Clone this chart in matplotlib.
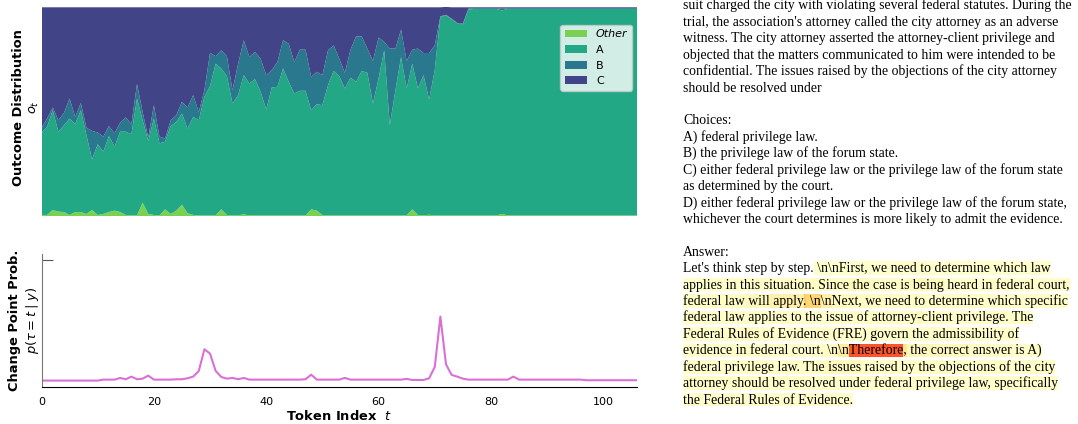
import matplotlib
matplotlib.use("Agg")
import matplotlib.pyplot as plt
import numpy as np
from matplotlib.patches import Rectangle
from matplotlib.font_manager import FontProperties

# ---------------- data ----------------
token_index = np.arange(107)

p_other = [0.005, 0.005, 0.029, 0.021, 0.019, 0.005, 0.019, 0.019, 0.010, 0.029,
           0.005, 0.010, 0.019, 0.026, 0.019, 0.005, 0.003, 0.003, 0.064, 0.010,
           0.005, 0.003, 0.032, 0.010, 0.026, 0.054, 0.013, 0.005, 0.003, 0.003,
           0.003, 0.003, 0.032, 0.005, 0.003, 0.003, 0.008, 0.003, 0.003, 0.003,
           0.003, 0.003, 0.003, 0.003, 0.003, 0.003, 0.003, 0.003, 0.032, 0.026,
           0.005, 0.003, 0.003, 0.003, 0.003, 0.003, 0.003, 0.003, 0.003, 0.003,
           0.003, 0.003, 0.003, 0.003, 0.003, 0.003, 0.032, 0.005, 0.003, 0.006,
           0.003, 0.003, 0.003, 0.003, 0.003, 0.003, 0.003, 0.003, 0.003, 0.003,
           0.003, 0.003, 0.010, 0.003, 0.003, 0.003, 0.003, 0.003, 0.003, 0.003,
           0.003, 0.003, 0.003, 0.003, 0.003, 0.003, 0.003, 0.003, 0.003, 0.003,
           0.003, 0.003, 0.003, 0.003, 0.003, 0.003, 0.003]

p_a = [0.394, 0.422, 0.478, 0.383, 0.416, 0.462, 0.421, 0.488, 0.378, 0.242,
       0.339, 0.298, 0.364, 0.306, 0.385, 0.399, 0.389, 0.560, 0.395, 0.350,
       0.462, 0.345, 0.324, 0.421, 0.425, 0.437, 0.406, 0.470, 0.456, 0.568,
       0.619, 0.727, 0.675, 0.665, 0.536, 0.576, 0.667, 0.632, 0.653, 0.592,
       0.507, 0.613, 0.616, 0.704, 0.640, 0.584, 0.597, 0.597, 0.475, 0.510,
       0.526, 0.624, 0.692, 0.667, 0.608, 0.660, 0.640, 0.692, 0.683, 0.536,
       0.656, 0.791, 0.432, 0.600, 0.759, 0.608, 0.698, 0.606, 0.672, 0.552,
       0.696, 0.951, 0.959, 0.940, 0.919, 0.916, 0.986, 0.989, 0.989, 0.989,
       0.989, 0.989, 0.975, 0.989, 0.989, 0.989, 0.989, 0.989, 0.989, 0.989,
       0.989, 0.989, 0.989, 0.989, 0.989, 0.989, 0.989, 0.989, 0.989, 0.989,
       0.989, 0.989, 0.989, 0.989, 0.989, 0.989, 0.989]

p_b = [0.024, 0.040, 0.013, 0.055, 0.059, 0.096, 0.035, 0.035, 0.035, 0.137,
       0.056, 0.072, 0.048, 0.064, 0.043, 0.068, 0.048, 0.069, 0.040, 0.016,
       0.064, 0.032, 0.016, 0.028, 0.032, 0.056, 0.101, 0.104, 0.040, 0.032,
       0.159, 0.036, 0.087, 0.096, 0.064, 0.151, 0.167, 0.127, 0.130, 0.159,
       0.165, 0.083, 0.119, 0.135, 0.183, 0.151, 0.197, 0.197, 0.160, 0.155,
       0.144, 0.167, 0.123, 0.084, 0.075, 0.134, 0.218, 0.166, 0.116, 0.204,
       0.196, 0.040, 0.367, 0.199, 0.131, 0.132, 0.067, 0.191, 0.106, 0.223,
       0.119, 0.003, 0.002, 0.003, 0.003, 0.003, 0.005, 0.004, 0.004, 0.004,
       0.004, 0.004, 0.008, 0.004, 0.004, 0.004, 0.004, 0.004, 0.004, 0.004,
       0.004, 0.004, 0.004, 0.004, 0.004, 0.004, 0.004, 0.004, 0.004, 0.004,
       0.004, 0.004, 0.004, 0.004, 0.004, 0.004, 0.004]

p_c = [0.577, 0.533, 0.480, 0.541, 0.506, 0.437, 0.525, 0.458, 0.577, 0.592,
       0.600, 0.620, 0.569, 0.604, 0.553, 0.528, 0.560, 0.368, 0.501, 0.624,
       0.469, 0.620, 0.628, 0.541, 0.517, 0.453, 0.480, 0.421, 0.501, 0.397,
       0.219, 0.234, 0.206, 0.234, 0.397, 0.270, 0.158, 0.238, 0.214, 0.246,
       0.325, 0.301, 0.262, 0.158, 0.174, 0.262, 0.203, 0.203, 0.333, 0.309,
       0.325, 0.206, 0.182, 0.246, 0.314, 0.203, 0.139, 0.139, 0.198, 0.257,
       0.145, 0.166, 0.198, 0.198, 0.107, 0.257, 0.203, 0.198, 0.219, 0.219,
       0.182, 0.043, 0.038, 0.054, 0.075, 0.078, 0.006, 0.004, 0.004, 0.004,
       0.004, 0.004, 0.007, 0.004, 0.004, 0.004, 0.004, 0.004, 0.004, 0.004,
       0.004, 0.004, 0.004, 0.004, 0.004, 0.004, 0.004, 0.004, 0.004, 0.004,
       0.004, 0.004, 0.004, 0.004, 0.004, 0.004, 0.004]

change_point = [0.003, 0.003, 0.003, 0.003, 0.003, 0.003, 0.003, 0.003, 0.003, 0.003,
                0.003, 0.011, 0.011, 0.011, 0.025, 0.014, 0.036, 0.014, 0.019, 0.044,
                0.011, 0.011, 0.011, 0.011, 0.014, 0.014, 0.022, 0.036, 0.083, 0.262,
                0.226, 0.083, 0.033, 0.019, 0.025, 0.014, 0.025, 0.011, 0.011, 0.011,
                0.011, 0.011, 0.011, 0.011, 0.011, 0.011, 0.011, 0.014, 0.052, 0.011,
                0.011, 0.011, 0.011, 0.011, 0.025, 0.011, 0.011, 0.011, 0.011, 0.011,
                0.011, 0.011, 0.011, 0.011, 0.011, 0.017, 0.008, 0.008, 0.008, 0.022,
                0.116, 0.532, 0.138, 0.050, 0.036, 0.019, 0.011, 0.011, 0.011, 0.011,
                0.011, 0.011, 0.011, 0.011, 0.036, 0.011, 0.011, 0.011, 0.011, 0.011,
                0.011, 0.011, 0.011, 0.011, 0.011, 0.011, 0.011, 0.006, 0.006, 0.006,
                0.006, 0.006, 0.006, 0.006, 0.006, 0.006, 0.006]

series_labels = ["Other", "A", "B", "C"]
x_ticks = [0, 20, 40, 60, 80, 100]

prompt_lines = [
    "suit charged the city with violating several federal statutes. During the",
    "trial, the association's attorney called the city attorney as an adverse",
    "witness. The city attorney asserted the attorney-client privilege and",
    "objected that the matters communicated to him were intended to be",
    "confidential. The issues raised by the objections of the city attorney",
    "should be resolved under",
    "",
    "Choices:",
    "A) federal privilege law.",
    "B) the privilege law of the forum state.",
    "C) either federal privilege law or the privilege law of the forum state",
    "as determined by the court.",
    "D) either federal privilege law or the privilege law of the forum state,",
    "whichever the court determines is more likely to admit the evidence.",
    "",
    "Answer:",
]
answer_prefix = "Let's think step by step."

# generated tokens, one per token index
answer_tokens = [
    " \\n", "\\n", "First", ",", " we", " need", " to", " determine", " which", " law",
    "applies", " in", " this", " situation", ".", " Since", " the", " case", " is", " being",
    " heard", " in", " federal", " court", ",",
    "federal", " law", " will", " apply", ".", " \\n", "\\n", "Next", ",", " we", " need",
    " to", " determine", " which", " specific",
    "federal", " law", " applies", " to", " the", " issue", " of", " attorney", "-", "client",
    " privilege", ".", " The",
    "Federal", " Rules", " of", " Evidence", " (", "FRE", ")", " govern", " the",
    " admissibility", " of",
    "evidence", " in", " federal", " court", ".", " \\n", "\\n", "Therefore", ",", " the",
    " correct", " answer", " is", " A", ")",
    "federal", " privilege", " law", ".", " The", " issues", " raised", " by", " the",
    " objections", " of", " the", " city",
    "attorney", " should", " be", " resolved", " under", " federal", " privilege", " law", ",",
    " specifically",
    "the", " Federal", " Rules", " of", " Evidence.",
]
line_starts = [10, 25, 40, 53, 64, 79, 92, 102]

# ---------------- figure ----------------
W, H = 1078, 424
fig = plt.figure(figsize=(W / 100, H / 100), dpi=100)


def rect_px(left, top, right, bottom):
    return [left / W, 1 - bottom / H, (right - left) / W, (bottom - top) / H]


colors = ["#7ad151", "#22a884", "#2a788e", "#414487"]
label_fs = 9.4

ax1 = fig.add_axes(rect_px(41.5, 7.3, 637, 216))
ax1.stackplot(token_index, p_other, p_a, p_b, p_c, colors=colors,
              labels=series_labels, linewidth=0)
ax1.set_xlim(0, 106)
ax1.set_ylim(0, 1)
ax1.set_xticks([])
ax1.set_yticks([])
for s in ax1.spines.values():
    s.set_visible(False)
ax1.set_ylabel("Outcome Distribution\n$o_t$", fontweight="bold", fontsize=label_fs)
ax1.yaxis.set_label_coords(-0.0015, 0.52)
leg = ax1.legend(loc="upper right",
                 bbox_to_anchor=((632 - 41.5) / 595.5, 1 - (25 - 7.3) / 208.7),
                 borderaxespad=0, fontsize=8, framealpha=0.8, edgecolor="#cccccc")
leg.get_texts()[0].set_style("italic")

ax2 = fig.add_axes(rect_px(41.5, 254, 637, 387))
ax2.plot(token_index, change_point, color="orchid", lw=1.5)
ax2.set_xlim(0, 106)
ax2.set_ylim(-0.05, 1.05)
ax2.spines["top"].set_visible(False)
ax2.spines["right"].set_visible(False)
ax2.spines["left"].set_color("#777777")
ax2.spines["bottom"].set_color("black")
ax2.set_yticks([1.0])
ax2.set_yticklabels([])
ax2.tick_params(axis="y", direction="in", length=8, color="#555555")
ax2.set_xticks(x_ticks)
ax2.tick_params(axis="x", length=0, pad=7, labelsize=8)
ax2.set_xlabel("Token Index  $t$", fontweight="bold", fontsize=label_fs, labelpad=2)
ax2.set_ylabel("Change Point Prob.\n$p(\\tau = t \\mid y)$", fontweight="bold",
               fontsize=label_fs)
ax2.yaxis.set_label_coords(-0.0015, 0.5)

# ---------------- text panel ----------------
renderer = fig.canvas.get_renderer()
fs = 9.9
prop = FontProperties(family="Liberation Serif", size=fs)
x0 = 683.0
cmap = plt.get_cmap("YlOrRd")


def center_y(k):
    return 5.5 + 16.42 * k


def text_width(s):
    if not s:
        return 0.0
    w, h, d = renderer.get_text_width_height_descent(s, prop, ismath=False)
    return w


def put_line(k, s):
    base = center_y(k) + 4.0
    fig.text(x0 / W, 1 - base / H, s, fontproperties=prop, va="baseline",
             ha="left", color="black", zorder=3)


for k, s in enumerate(prompt_lines):
    if s:
        put_line(k, s)

bounds = [0] + line_starts + [len(answer_tokens)]
for li in range(len(bounds) - 1):
    k = len(prompt_lines) + li
    toks = list(range(bounds[li], bounds[li + 1]))
    prefix = answer_prefix if li == 0 else ""
    full = prefix + "".join(answer_tokens[i] for i in toks)
    cy = center_y(k)
    acc = prefix
    for i in toks:
        xs = x0 + text_width(acc)
        acc = acc + answer_tokens[i]
        xe = x0 + text_width(acc)
        r = Rectangle((xs / W, 1 - (cy + 6.8) / H), (xe - xs) / W, 13.6 / H,
                      transform=fig.transFigure,
                      facecolor=cmap(min(1.0, change_point[i] * 1.15)),
                      edgecolor="none", zorder=1)
        fig.add_artist(r)
    put_line(k, full)

fig.savefig("out.png", dpi=100)
